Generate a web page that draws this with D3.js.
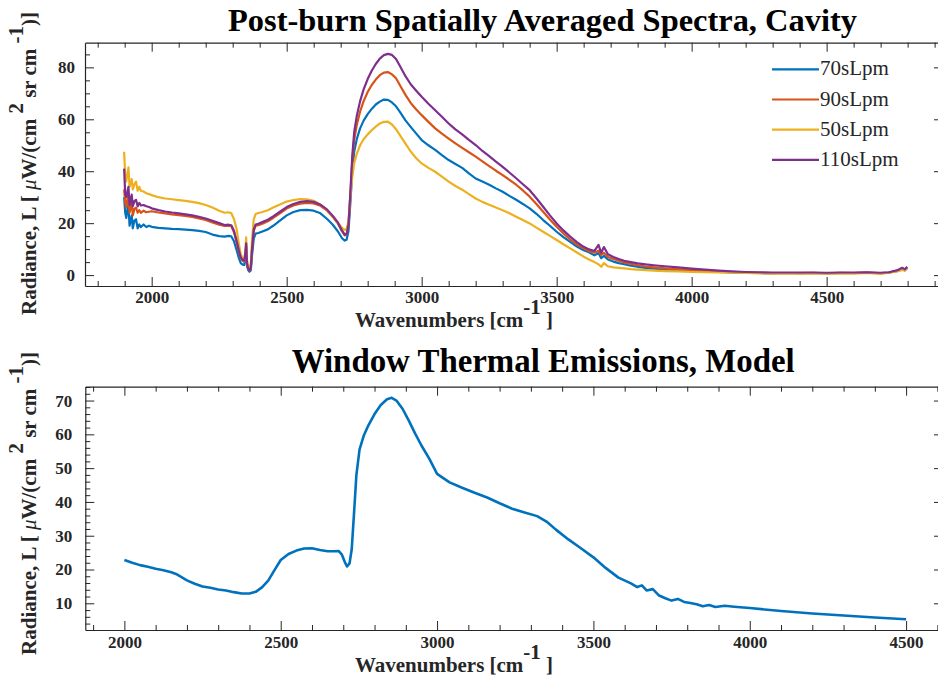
<!DOCTYPE html>
<html><head><meta charset="utf-8">
<script src="https://cdn.jsdelivr.net/npm/d3@7"></script>
<style>body{margin:0;background:#fff}</style>
</head><body><svg id="chart" width="938" height="683"></svg>
<script>
// ---------------- DATA ----------------
const wavenumbers = [
 1898,1902,1906,1910,1914,1918,1922,1926,1930,1936,
 1942,1948,1954,1960,1970,1980,1990,2000,2025,2050,
 2075,2100,2125,2150,2175,2200,2225,2250,2270,2285,
 2295,2305,2315,2323,2330,2337,2343,2347,2350,2353,
 2357,2362,2367,2372,2378,2385,2395,2410,2430,2450,
 2475,2500,2525,2550,2575,2600,2625,2650,2670,2690,
 2705,2715,2722,2729,2736,2743,2750,2760,2772,2785,
 2800,2815,2830,2845,2860,2875,2890,2905,2920,2940,
 2960,2980,3000,3025,3050,3075,3100,3125,3150,3175,
 3200,3225,3250,3275,3300,3325,3350,3375,3400,3425,
 3450,3475,3500,3525,3550,3575,3600,3620,3640,3655,
 3665,3675,3690,3710,3730,3750,3775,3800,3830,3860,
 3900,3950,4000,4050,4100,4150,4200,4250,4300,4350,
 4400,4450,4500,4550,4600,4650,4700,4730,4760,4780,
 4790,4798];

const radiance70 = [
 30,24,22,25,27,19,21,23,18,21,
 21.5,18,19.5,18.5,19.5,18.5,19,18.6,18.2,18,
 17.8,17.7,17.5,17.3,17,16.6,15.6,15,14.8,15.1,
 14.9,13,9.5,6.5,4.6,4,3.9,7,11,4,
 2,1.3,1.8,8,14,16,16.2,16.8,17.6,19,
 21,23,24.3,25,25.1,24.8,23.8,21.6,19.5,16.8,
 14.2,13.3,13.6,17,28,40,47.5,52.5,56.5,59.5,
 62,64,65.7,66.8,67.6,67.5,66.5,65,62.8,59.6,
 57,54.5,52,50,48.2,46.2,44.3,42.8,41.3,39.2,
 37.2,36,34.8,33.4,32.1,30.5,29,27.4,25.7,23.6,
 21.2,19,16.7,14.6,12.8,11,9.6,8.8,7.6,8.5,
 6.5,7.4,6,5.2,4.6,4.2,3.6,3.2,2.8,2.5,
 2.2,2,1.7,1.4,1.2,1,0.9,0.8,0.7,0.8,
 0.7,0.8,0.7,0.8,0.8,0.9,0.8,1,1.5,2.2,
 1.8,2.8];

const radiance90 = [
 33,28,26,29,31,24,26,28,23,25.5,
 26,24,25,24,24.8,24.2,24.4,24.6,24.1,23.8,
 23.4,23.1,22.8,22.4,21.8,21.2,20.3,19.4,18.9,19,
 18.8,16.5,12.5,9,6.5,5.5,5.2,8,11.5,4.5,
 2.5,1.8,2.6,10,17,19,19.2,19.8,20.7,22,
 23.8,25.6,26.8,27.5,27.8,27.6,26.7,24.8,22.5,19.8,
 16.8,15.3,15.6,19,31,44,52,58,63,67,
 70.5,73.2,75.3,77,78,78.2,77.3,75.8,73,69.4,
 66.2,63.8,61.6,59,56.5,54.5,52.6,50.7,49,47.3,
 45.6,43.8,42,40.2,38.5,36.7,34.8,32.6,30.2,27.4,
 24.4,21.4,18.6,16,13.7,11.8,10.3,9.2,8.6,9.4,
 7.8,8.6,7,6.2,5.5,4.9,4.3,3.8,3.3,3,
 2.6,2.2,1.9,1.6,1.3,1.1,1,0.9,0.8,0.8,
 0.8,0.9,0.7,0.9,0.8,1,0.7,0.9,1.6,2.4,
 2,3];

const radiance50 = [
 47.5,38,36,39,41.5,34,35.5,37,33,35,
 36,32.5,34,32.5,32.2,31.5,31.2,30.8,30,29.5,
 29.2,28.9,28.6,28.2,27.7,27,26,24.8,24,24.2,
 23.8,21.5,17.5,12,8,6.3,5.8,10,14.5,6,
 3.5,2.6,4,14,21.5,23.5,23.9,24.3,25,26,
 27.2,28.3,28.9,29.3,29.2,28.6,27.2,25,22.8,20.2,
 18.2,17.4,17.8,21,30,38,43,46.8,50,52.3,
 54.2,55.8,57.2,58.4,59,59.1,58,56.2,53.8,50.6,
 47.5,45,43,41.3,39.8,37.9,36,34.3,32.9,31.2,
 29.5,28.2,27.1,26,25,23.8,22.5,21.2,19.9,18.3,
 16.7,15.1,13.5,11.9,10.3,8.7,7.1,6,5,4.2,
 3.2,4.6,3.4,3,2.8,2.6,2.3,2.1,1.9,1.7,
 1.5,1.4,1.2,1.1,1,0.9,0.8,0.7,0.6,0.6,
 0.6,0.7,0.6,0.7,0.6,0.8,0.5,0.9,1.4,2,
 1.8,2.6];

const radiance110 = [
 41,31,30,32,34,27,29,31,26.5,28.5,
 29,26.5,27.8,26.8,27,26.5,26.2,25.7,25,24.5,
 24.1,23.8,23.4,23,22.4,21.8,20.9,20,19.3,19.4,
 19.2,17,13,9.5,6.8,5.8,5.6,8.5,12.2,4.7,
 2.6,1.9,2.8,10.5,17.5,19.5,19.8,20.4,21.3,22.6,
 24.4,26.2,27.4,28.2,28.5,28.2,27.1,25.2,22.9,20.2,
 17.2,15.6,15.8,19.5,32,46,55,61.5,67,71.5,
 75.5,78.7,81.3,83.4,84.7,85.2,84.8,83.2,80.4,76.6,
 73.4,71,68.7,66,63.5,61,58.4,56.1,54.2,52.1,
 50.1,47.8,45.8,43.7,41.7,39.5,37.3,35,32.7,29.6,
 26.3,23,19.9,17.2,14.8,12.7,10.9,9.9,9.3,11.6,
 8.6,10.8,8,7,6.2,5.5,5,4.5,4.1,3.8,
 3.4,3,2.5,2.1,1.7,1.4,1.2,1.1,1,1,
 1,1,0.9,1,1,1.1,0.9,1.1,1.8,2.8,
 2.2,3.2];

const seriesNames  = ["70sLpm", "90sLpm", "50sLpm", "110sLpm"];
const seriesValues = [radiance70, radiance90, radiance50, radiance110];
const seriesColors = ["#0072BD", "#D95319", "#EDB120", "#7E2F8E"];

const modelWavenumbers = [
 2000,2025,2050,2075,2100,2125,2150,2165,2180,2200,
 2225,2250,2275,2300,2325,2350,2375,2400,2420,2440,
 2460,2480,2500,2525,2550,2575,2600,2625,2650,2670,
 2685,2695,2705,2712,2720,2727,2734,2742,2752,2765,
 2780,2800,2820,2840,2855,2870,2890,2910,2930,2950,
 2975,3000,3040,3080,3120,3160,3200,3240,3280,3320,
 3350,3380,3420,3460,3500,3540,3580,3620,3640,3655,
 3670,3690,3710,3730,3750,3770,3790,3810,3830,3850,
 3870,3890,3920,3950,4000,4100,4200,4300,4400,4500];

const modelRadiance = [
 22.8,22,21.3,20.8,20.2,19.8,19.2,18.7,17.9,16.8,
 15.8,15,14.6,14.1,13.8,13.3,12.9,12.9,13.4,14.7,
 16.7,19.8,22.8,24.6,25.6,26.2,26.3,25.8,25.4,25.4,
 25.5,24.5,22.2,20.9,21.8,26,36,48,55.5,59.5,
 62.6,66,68.7,70.4,70.8,70,67.5,64,60.2,56.7,
 52.8,48.3,45.8,44.2,42.7,41.3,39.6,38,36.9,35.8,
 34.2,31.8,28.9,26.3,23.6,20.4,17.6,15.9,14.8,15.3,
 13.8,14.2,12.3,11.5,10.8,11.3,10.4,10.1,9.7,9.1,
 9.5,8.9,9.3,9,8.6,7.7,7,6.4,5.8,5.3];

const topXTicks = [2000, 2500, 3000, 3500, 4000, 4500];
const topYTicks = [0, 20, 40, 60, 80];
const bottomXTicks = [2000, 2500, 3000, 3500, 4000, 4500];
const bottomYTicks = [10, 20, 30, 40, 50, 60, 70];

// ---------------- DRAWING ----------------
const svg = d3.select("#chart");
const ink = "#262626";
const serif = "'Liberation Serif', 'Times New Roman', serif";

function fitWidth(sel, target) {
  const fs = parseFloat(sel.attr("font-size"));
  const len = sel.node().getComputedTextLength();
  sel.attr("font-size", (fs * target / len).toFixed(2));
}

function styleAxis(g, labelSize) {
  g.attr("font-family", serif).attr("font-size", labelSize).attr("font-weight", "bold");
  g.selectAll("path").attr("stroke", ink).attr("stroke-width", 1.2);
  g.selectAll("line").attr("stroke", ink).attr("stroke-width", 1);
  g.selectAll("text").attr("fill", ink);
}

function panel(cfg) {
  const x = d3.scaleLinear().domain(cfg.xDomain).range([cfg.left, cfg.right]);
  const y = d3.scaleLinear().domain(cfg.yDomain).range([cfg.bottom, cfg.top]);
  const clipId = cfg.id + "-clip";
  svg.append("clipPath").attr("id", clipId).append("rect")
    .attr("x", cfg.left).attr("y", cfg.top)
    .attr("width", cfg.right - cfg.left).attr("height", cfg.bottom - cfg.top);

  const plot = svg.append("g").attr("clip-path", `url(#${clipId})`);
  cfg.series.forEach(s => {
    const pts = s.xs.map((w, i) => [w, s.ys[i]]);
    plot.append("path").datum(pts)
      .attr("fill", "none").attr("stroke", s.color).attr("stroke-width", cfg.lineWidth)
      .attr("stroke-linejoin", "round")
      .attr("d", d3.line().x(d => x(d[0])).y(d => y(d[1])));
  });

  const fmt = d3.format("d");
  const major = 9, minor = 5;
  const gb = svg.append("g").attr("transform", `translate(0,${cfg.bottom})`)
    .call(d3.axisBottom(x).tickValues(cfg.xTicks).tickSize(-major).tickSizeOuter(0)
      .tickPadding(cfg.xPad).tickFormat(fmt));
  styleAxis(gb, cfg.tickFont);
  const gbm = svg.append("g").attr("transform", `translate(0,${cfg.bottom})`)
    .call(d3.axisBottom(x).tickValues(cfg.xMinor).tickSize(-minor).tickSizeOuter(0).tickFormat(""));
  styleAxis(gbm, cfg.tickFont); gbm.select(".domain").remove();
  const gt = svg.append("g").attr("transform", `translate(0,${cfg.top})`)
    .call(d3.axisTop(x).tickValues(cfg.xTicks).tickSize(-major).tickSizeOuter(0).tickFormat(""));
  styleAxis(gt, cfg.tickFont);
  const gtm = svg.append("g").attr("transform", `translate(0,${cfg.top})`)
    .call(d3.axisTop(x).tickValues(cfg.xMinor).tickSize(-minor).tickSizeOuter(0).tickFormat(""));
  styleAxis(gtm, cfg.tickFont); gtm.select(".domain").remove();
  const gl = svg.append("g").attr("transform", `translate(${cfg.left},0)`)
    .call(d3.axisLeft(y).tickValues(cfg.yTicks).tickSize(-major).tickSizeOuter(0)
      .tickPadding(cfg.yPad).tickFormat(fmt));
  styleAxis(gl, cfg.tickFont);
  const glm = svg.append("g").attr("transform", `translate(${cfg.left},0)`)
    .call(d3.axisLeft(y).tickValues(cfg.yMinor).tickSize(-minor).tickSizeOuter(0).tickFormat(""));
  styleAxis(glm, cfg.tickFont); glm.select(".domain").remove();
  const gr = svg.append("g").attr("transform", `translate(${cfg.right},0)`)
    .call(d3.axisRight(y).tickValues(cfg.yTicks).tickSize(-major).tickSizeOuter(0).tickFormat(""));
  styleAxis(gr, cfg.tickFont);
  const grm = svg.append("g").attr("transform", `translate(${cfg.right},0)`)
    .call(d3.axisRight(y).tickValues(cfg.yMinor).tickSize(-minor).tickSizeOuter(0).tickFormat(""));
  styleAxis(grm, cfg.tickFont); grm.select(".domain").remove();

  const t = svg.append("text").attr("x", cfg.titleX).attr("y", cfg.titleY)
    .attr("font-family", serif).attr("font-weight", "bold").attr("font-size", 30)
    .attr("fill", "#000").text(cfg.title);
  fitWidth(t, cfg.titleW);

  const xl = svg.append("text").attr("x", cfg.xLabelX).attr("y", cfg.xLabelY)
    .attr("font-family", serif).attr("font-weight", "bold").attr("font-size", 18).attr("fill", ink);
  xl.append("tspan").text("Wavenumbers [cm");
  xl.append("tspan").attr("dy", "-0.6em").text("-1");
  xl.append("tspan").attr("dy", "0.6em").text(" ]");
  fitWidth(xl, cfg.xLabelW);

  const yl = svg.append("text")
    .attr("transform", `translate(${cfg.yLabelX},${cfg.yLabelY}) rotate(-90)`)
    .attr("text-anchor", "middle")
    .attr("font-family", serif).attr("font-weight", "bold").attr("font-size", 18).attr("fill", ink);
  yl.append("tspan").text("Radiance, L [ ");
  yl.append("tspan").attr("font-style", "italic").attr("font-weight", "normal").text("\u03BC");
  yl.append("tspan").text("W/(cm ");
  yl.append("tspan").attr("dy", "-0.6em").text("2");
  yl.append("tspan").attr("dy", "0.6em").text(" sr cm ");
  yl.append("tspan").attr("dy", "-0.6em").text("-1");
  yl.append("tspan").attr("dy", "0.6em").text(")]");
  fitWidth(yl, cfg.yLabelW);

  return { x, y };
}

panel({
  id: "top", left: 85, right: 943, top: 42.7, bottom: 286,
  xDomain: [1753, 4931], yDomain: [-4.2, 89.5],
  xTicks: topXTicks, xMinor: d3.range(1800, 4901, 100).filter(v => !topXTicks.includes(v)),
  yTicks: topYTicks, yMinor: d3.range(0, 86, 5).filter(v => !topYTicks.includes(v)),
  xPad: 5, yPad: 10, tickFont: 17,
  lineWidth: 2.2,
  series: seriesValues.map((ys, i) => ({ xs: wavenumbers, ys, color: seriesColors[i] })),
  title: "Post-burn Spatially Averaged Spectra, Cavity", titleX: 228, titleY: 31, titleW: 629,
  xLabelX: 355, xLabelY: 327, xLabelW: 198,
  yLabelX: 36, yLabelY: 163.4, yLabelW: 303
});

const legend = svg.append("g");
seriesNames.forEach((name, i) => {
  const ly = 69.3 + i * 30.2;
  legend.append("line").attr("x1", 772).attr("x2", 819).attr("y1", ly).attr("y2", ly)
    .attr("stroke", seriesColors[i]).attr("stroke-width", 2.2);
  legend.append("text").attr("x", 820).attr("y", ly + 6)
    .attr("font-family", serif).attr("font-size", 21).attr("fill", ink).text(name);
});

panel({
  id: "bottom", left: 85.3, right: 943, top: 386.7, bottom: 630,
  xDomain: [1875, 4618], yDomain: [2.1, 74.1],
  xTicks: bottomXTicks, xMinor: d3.range(1900, 4601, 100).filter(v => !bottomXTicks.includes(v)),
  yTicks: bottomYTicks, yMinor: d3.range(4, 75, 2).filter(v => !bottomYTicks.includes(v)),
  xPad: 6, yPad: 13, tickFont: 17,
  lineWidth: 2.6,
  series: [{ xs: modelWavenumbers, ys: modelRadiance, color: "#0072BD" }],
  title: "Window Thermal Emissions, Model", titleX: 291.7, titleY: 372.3, titleW: 503,
  xLabelX: 355, xLabelY: 672, xLabelW: 198,
  yLabelX: 36, yLabelY: 503.4, yLabelW: 303
});
</script></body></html>
